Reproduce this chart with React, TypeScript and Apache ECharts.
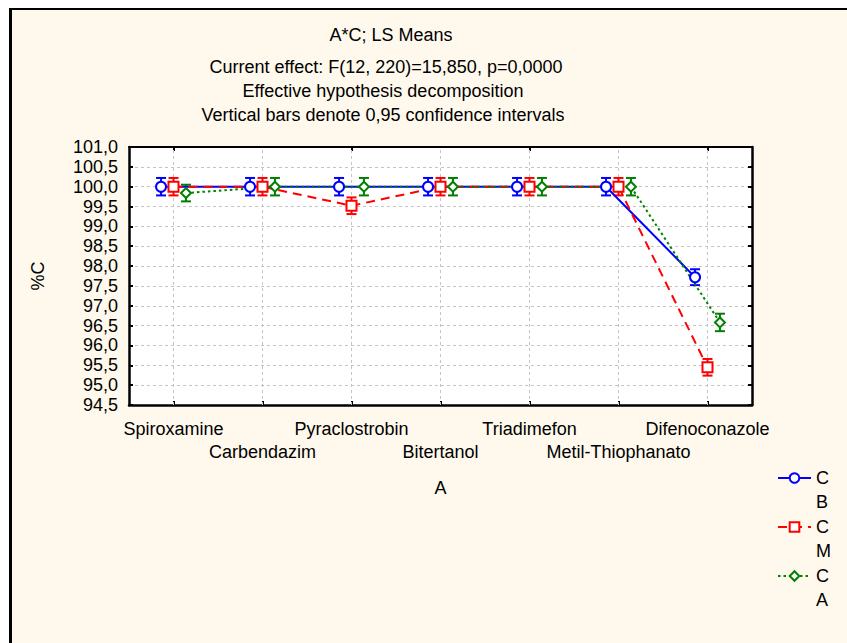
import React, { useEffect, useRef } from 'react';
import * as echarts from 'echarts';

const categories = [
  'Spiroxamine',
  'Carbendazim',
  'Pyraclostrobin',
  'Bitertanol',
  'Triadimefon',
  'Metil-Thiophanato',
  'Difenoconazole',
];

const Y_MIN = 94.5;
const Y_MAX = 101;
const Y_STEP = 0.5;

const levelNames = ['B', 'M', 'A'];
const meansB = [100.0, 100.0, 100.0, 100.0, 100.0, 100.0, 97.72];
const meansM = [100.0, 100.0, 99.52, 100.0, 100.0, 100.0, 95.45];
const meansA = [99.84, 100.0, 100.0, 100.0, 100.0, 100.0, 96.58];
const ciB = [0.22, 0.22, 0.22, 0.22, 0.22, 0.22, 0.2];
const ciM = [0.22, 0.22, 0.21, 0.22, 0.22, 0.22, 0.21];
const ciA = [0.21, 0.22, 0.22, 0.22, 0.22, 0.22, 0.22];

const titleLines = [
  'A*C; LS Means',
  'Current effect: F(12, 220)=15,850, p=0,0000',
  'Effective hypothesis decomposition',
  'Vertical bars denote 0,95 confidence intervals',
];

const FONT = '"Liberation Sans", Arial, Helvetica, sans-serif';
const COLORS = ['#0000FF', '#FF0000', '#008000'];
const SYMBOLS = ['emptyCircle', 'emptyRect', 'emptyDiamond'];
const OFFSETS = [-0.14, 0.0, 0.14];
const DASHES: any[] = ['solid', [9, 6], [2.5, 3]];
const SIZES = [10, 10, 10];
const LEGEND_TOPS = [442, 491, 540];

const seriesMeans = [meansB, meansM, meansA];
const seriesCi = [ciB, ciM, ciA];

function errRenderer(color: string) {
  return (params: any, api: any) => {
    const x = api.value(0);
    const y = api.value(1);
    const e = api.value(2);
    const top = api.coord([x, y + e]);
    const bot = api.coord([x, y - e]);
    const hw = 5;
    const style = { stroke: color, lineWidth: 2, fill: 'none' };
    return {
      type: 'group',
      children: [
        { type: 'line', shape: { x1: top[0], y1: top[1], x2: bot[0], y2: bot[1] }, style },
        { type: 'line', shape: { x1: top[0] - hw, y1: top[1], x2: top[0] + hw, y2: top[1] }, style },
        { type: 'line', shape: { x1: bot[0] - hw, y1: bot[1], x2: bot[0] + hw, y2: bot[1] }, style },
      ],
    };
  };
}

function buildOption(): any {
  const lineSeries = levelNames.map((name, s) => ({
    name,
    type: 'line',
    xAxisIndex: 2,
    yAxisIndex: 0,
    z: 4,
    data: categories.map((_, i) => [i + OFFSETS[s], seriesMeans[s][i]]),
    symbol: SYMBOLS[s],
    symbolSize: SIZES[s],
    showSymbol: true,
    lineStyle: { color: COLORS[s], width: 2, type: DASHES[s] },
    itemStyle: { color: COLORS[s], borderWidth: 2 },
    emphasis: { disabled: true },
  }));

  const errSeries = levelNames.map((name, s) => ({
    name: name + ' CI',
    type: 'custom',
    xAxisIndex: 2,
    yAxisIndex: 0,
    z: 3,
    silent: true,
    renderItem: errRenderer(COLORS[s]),
    encode: { x: 0, y: 1 },
    data: categories.map((_, i) => [i + OFFSETS[s], seriesMeans[s][i], seriesCi[s][i]]),
  }));

  const vGrid = {
    name: 'vgrid',
    type: 'custom',
    xAxisIndex: 2,
    yAxisIndex: 0,
    z: 1,
    silent: true,
    encode: { x: 0, y: [1, 2] },
    data: categories.map((_, i) => [i, Y_MIN, Y_MAX]),
    renderItem: (params: any, api: any) => {
      const x = api.value(0);
      const p1 = api.coord([x, api.value(1)]);
      const p2 = api.coord([x, api.value(2)]);
      return {
        type: 'line',
        shape: { x1: p1[0], y1: p1[1], x2: p2[0], y2: p2[1] },
        style: { stroke: '#c4c4c4', lineWidth: 1, lineDash: [3, 3] },
      };
    },
  };

  const titleY = [35, 67, 91, 115];
  const titleX = [391, 386, 383, 383];

  const legends = levelNames.map((n, s) => ({
    data: [n],
    orient: 'vertical',
    left: 777,
    top: LEGEND_TOPS[s],
    padding: 0,
    itemGap: 0,
    itemWidth: 33,
    itemHeight: 12,
    selectedMode: false,
    formatter: (name: string) => '\nC\n' + name,
    textStyle: {
      fontSize: 18,
      fontFamily: FONT,
      color: '#000',
      lineHeight: 24,
    },
  }));

  return {
    animation: false,
    backgroundColor: 'transparent',
    textStyle: { fontFamily: FONT },
    graphic: titleLines.map((t, i) => ({
      type: 'text',
      x: titleX[i],
      y: titleY[i],
      style: {
        text: t,
        font: `18px ${FONT}`,
        fill: '#000',
        align: 'center',
        verticalAlign: 'middle',
      },
    })),
    legend: legends,
    grid: {
      left: 129,
      top: 147,
      width: 623,
      height: 258,
      show: true,
      backgroundColor: '#ffffff',
      borderWidth: 0,
      containLabel: false,
      outerBoundsMode: 'none',
    },
    xAxis: [
      {
        type: 'category',
        position: 'bottom',
        data: categories,
        boundaryGap: true,
        name: 'A',
        nameLocation: 'middle',
        nameGap: 74,
        nameTextStyle: { fontSize: 18, color: '#000', fontFamily: FONT },
        axisLine: { show: true, onZero: false, lineStyle: { color: '#000', width: 2.5 } },
        axisTick: { show: true, inside: true, alignWithLabel: true, length: 4, lineStyle: { color: '#000', width: 2 } },
        axisLabel: {
          interval: 0,
          fontSize: 18,
          color: '#000',
          fontFamily: FONT,
          lineHeight: 23,
          margin: 12,
          verticalAlign: 'top',
          formatter: (v: string, i: number) => (i % 2 === 1 ? '\n' + v : v),
        },
        splitLine: { show: false },
      },
      {
        type: 'category',
        position: 'top',
        data: categories,
        boundaryGap: true,
        axisLine: { show: true, onZero: false, lineStyle: { color: '#000', width: 2 } },
        axisTick: { show: true, inside: true, alignWithLabel: true, length: 4, lineStyle: { color: '#000', width: 2 } },
        axisLabel: { show: false },
        splitLine: { show: false },
      },
      {
        type: 'value',
        show: false,
        min: -0.5,
        max: categories.length - 0.5,
        axisLine: { show: false, onZero: false },
        splitLine: { show: false },
      },
    ],
    yAxis: [
      {
        type: 'value',
        position: 'left',
        min: Y_MIN,
        max: Y_MAX,
        interval: Y_STEP,
        name: '%C',
        nameLocation: 'middle',
        nameGap: 82,
        nameRotate: 90,
        nameTextStyle: { fontSize: 18, color: '#000', fontFamily: FONT },
        axisLine: { show: true, onZero: false, lineStyle: { color: '#000', width: 2.5 } },
        axisTick: { show: true, inside: true, length: 4, lineStyle: { color: '#000', width: 2 } },
        axisLabel: {
          fontSize: 18,
          color: '#000',
          fontFamily: FONT,
          margin: 11,
          formatter: (v: number) => v.toFixed(1).replace('.', ','),
        },
        splitLine: { show: true, lineStyle: { color: '#c4c4c4', width: 1, type: [3, 3] } },
      },
      {
        type: 'value',
        position: 'right',
        min: Y_MIN,
        max: Y_MAX,
        interval: Y_STEP,
        axisLine: { show: true, onZero: false, lineStyle: { color: '#000', width: 2.5 } },
        axisTick: { show: true, inside: true, length: 4, lineStyle: { color: '#000', width: 2 } },
        axisLabel: { show: false },
        splitLine: { show: false },
      },
    ],
    series: [vGrid, ...errSeries, ...lineSeries],
  };
}

export default function App() {
  const ref = useRef<HTMLDivElement>(null);
  useEffect(() => {
    if (!ref.current) return;
    const chart = echarts.init(ref.current, null, { renderer: 'svg' });
    chart.setOption(buildOption());
    return () => {
      chart.dispose();
    };
  }, []);
  return (
    <div style={{ position: 'fixed', left: 0, top: 0, width: 847, height: 643, background: '#ffffff', overflow: 'hidden' }}>
      <div
        style={{
          position: 'absolute',
          left: 9,
          top: 8,
          width: 838,
          height: 635,
          background: '#FEF9EC',
          borderLeft: '3px solid #000',
          borderTop: '2px solid #000',
          boxSizing: 'border-box',
        }}
      />
      <div ref={ref} style={{ position: 'absolute', left: 0, top: 0, width: 847, height: 643 }} />
    </div>
  );
}
